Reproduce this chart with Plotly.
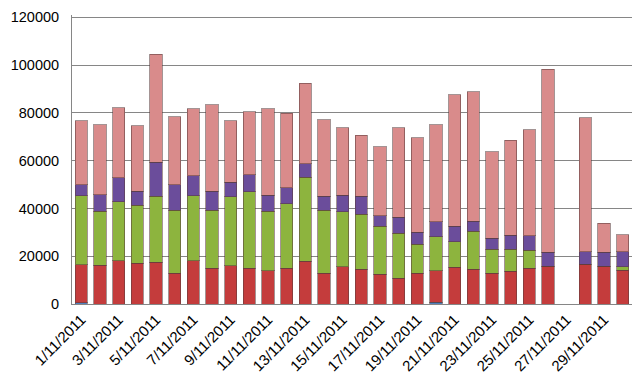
import plotly.graph_objects as go

days = list(range(1, 31))
tick_days = list(range(1, 31, 2))
tick_labels = [f"{d}/11/2011" for d in tick_days]
y_ticks = [0, 20000, 40000, 60000, 80000, 100000, 120000]
y_top = 121000  # slightly above the last tick so its gridline is drawn

blue = [600, 0, 0, 0, 0, 0, 0, 0, 0, 0, 0, 0, 0, 0, 0, 0, 0, 0, 0, 700,
        0, 0, 0, 0, 0, 0, None, 0, 0, 0]
red = [15800, 16300, 18100, 17100, 17400, 12900, 18100, 14900, 16000, 15000,
       13900, 15000, 17800, 12800, 15700, 14600, 12400, 10800, 12900, 13300,
       15300, 14600, 12900, 13800, 14900, 15800, None, 16700, 15800, 14200]
green = [29000, 22600, 24800, 24300, 27700, 26300, 27300, 24300, 29000, 32100,
         25000, 26900, 35300, 26400, 22900, 22900, 20100, 18800, 12100, 14200,
         10700, 15800, 10000, 9100, 7600, 0, None, 0, 0, 1500]
purple = [4600, 6900, 9900, 5800, 14200, 10800, 8400, 8000, 6000, 7100,
          6700, 6700, 5700, 5900, 7000, 7600, 4400, 6700, 5000, 6200,
          6500, 4300, 4600, 5900, 6100, 5900, None, 5200, 5900, 6200]
pink = [26700, 29200, 29300, 27400, 45300, 28300, 28000, 36300, 25700, 26200,
        36200, 31300, 33700, 32100, 28200, 25500, 28900, 37500, 39600, 40700,
        55100, 54100, 36300, 39800, 44300, 76600, None, 56000, 12200, 7000]

series = [
    ("Series1", blue, "#4F81BD"),
    ("Series2", red, "#C43C3C"),
    ("Series3", green, "#8DB43E"),
    ("Series4", purple, "#6B4D9B"),
    ("Series5", pink, "#D98B8B"),
]

fig = go.Figure()
for name, vals, col in series:
    fig.add_trace(go.Bar(
        x=days, y=vals, name=name,
        marker=dict(color=col, line=dict(color="rgba(90,60,60,0.55)", width=1)),
    ))

# page body has an 8px margin, so the figure is sized to fit the 642x386 window
fig.update_layout(
    barmode="stack",
    bargap=0.34,
    width=634, height=378,
    margin=dict(l=64, r=10, t=6.6, b=82, autoexpand=False),
    paper_bgcolor="white", plot_bgcolor="white",
    showlegend=False,
    font=dict(family="Liberation Sans, Arial, sans-serif", size=14, color="black"),
)
fig.update_xaxes(
    range=[0.5, 30.5], tickmode="array", tickvals=tick_days, ticktext=tick_labels,
    tickangle=-45, showline=True, linecolor="#868686", linewidth=1,
    showgrid=False, ticks="", tickfont=dict(size=15), automargin=False,
    ticklabeloverflow="allow",
)
fig.update_yaxes(
    range=[0, y_top], tickmode="array", tickvals=y_ticks,
    ticktext=[str(v) for v in y_ticks],
    showline=True, linecolor="#868686", linewidth=1,
    showgrid=True, gridcolor="#868686", gridwidth=1, ticks="", tickfont=dict(size=14.5),
    zeroline=False, ticklabelstandoff=9, automargin=False, ticklabeloverflow="allow",
)

fig.write_html("out.html")
